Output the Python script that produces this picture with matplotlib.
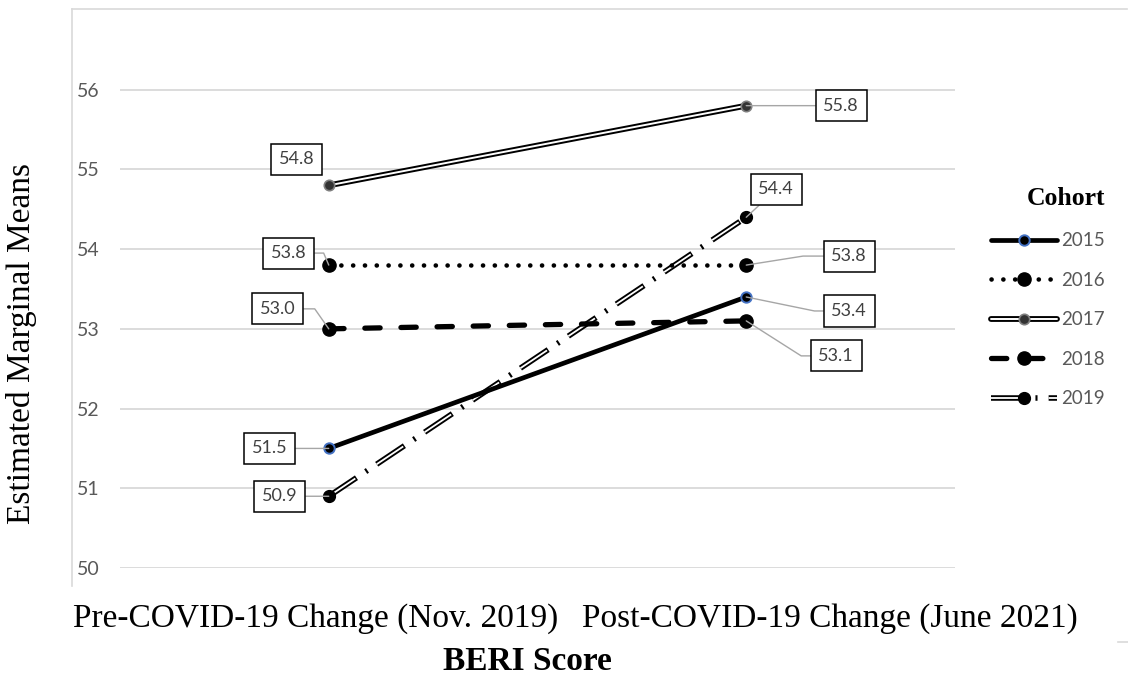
import matplotlib
matplotlib.use("Agg")
import matplotlib.pyplot as plt
from matplotlib.lines import Line2D

plt.rcParams['lines.scale_dashes'] = False

# data
categories = ["Pre-COVID-19 Change (Nov. 2019)", "Post-COVID-19 Change (June 2021)"]
cohorts = ["2015", "2016", "2017", "2018", "2019"]
vals_2015 = [51.5, 53.4]
vals_2016 = [53.8, 53.8]
vals_2017 = [54.8, 55.8]
vals_2018 = [53.0, 53.1]
vals_2019 = [50.9, 54.4]
yticks = [50, 51, 52, 53, 54, 55, 56]

W, H = 1128, 678
fig = plt.figure(figsize=(W / 100, H / 100), dpi=100)
ax = fig.add_axes([120 / W, 110 / H, 835 / W, 558 / H])
x = [0, 1]

SERIF = "Liberation Serif"
SANS = "Lato"
GRAY = "#595959"

# chart border (cropped chart area)
fig.add_artist(Line2D([72 / W, 1127 / W], [1 - 9 / H, 1 - 9 / H], color="#d9d9d9", lw=1.2))
fig.add_artist(Line2D([72 / W, 72 / W], [1 - 9 / H, 1 - 586 / H], color="#d9d9d9", lw=1.2))
fig.add_artist(Line2D([1118 / W, 1128 / W], [1 - 642 / H, 1 - 642 / H], color="#d9d9d9", lw=1.2))

ax.set_xlim(-0.5, 1.5)
ax.set_ylim(50, 57)
ax.set_yticks(yticks)
ax.set_xticks([])
ax.grid(axis="y", color="#d9d9d9", lw=1.3)
ax.set_axisbelow(True)
for s in ax.spines.values():
    s.set_visible(False)
ax.tick_params(axis="y", length=0, pad=14.5, labelcolor=GRAY, labelsize=14)
for t in ax.get_yticklabels():
    t.set_fontfamily(SANS)

# 2015 solid
l15, = ax.plot(x, vals_2015, color="black", lw=3.4, solid_capstyle="round",
               marker="o", ms=7.5, mfc="black", mec="#4472c4", mew=1.4, zorder=5)
# 2016 dotted
l16, = ax.plot(x, vals_2016, color="black", lw=3.3, ls=(0, (0.1, 8.4)),
               dash_capstyle="round", marker="o", ms=9.5, mfc="black", mec="black", zorder=4)
# 2017 double line
l17a, = ax.plot(x, vals_2017, color="black", lw=4.2, solid_capstyle="round", zorder=4)
l17b, = ax.plot(x, vals_2017, color="white", lw=1.4, solid_capstyle="round",
                marker="o", ms=7.5, mfc="#333333", mec="#808080", mew=1.2, zorder=4)
# 2018 dashed
l18, = ax.plot(x, vals_2018, color="black", lw=3.8, ls=(0, (11, 15)),
               dash_capstyle="round", marker="o", ms=9.5, mfc="black", mec="black", zorder=4)
# 2019 dash-dot double line
l19a, = ax.plot(x, vals_2019, color="black", lw=4.0, ls=(0, (24, 8, 1.5, 8)),
                dash_capstyle="butt", zorder=3)
l19b, = ax.plot(x, vals_2019, color="white", lw=1.3, ls=(0, (23, 18.5)),
                dash_capstyle="butt", marker="o", ms=8.5, mfc="black", mec="black", zorder=3)

# data labels: (x index, value, box offset px, leader angle at point)
labels = [
    (0, vals_2017[0], (-32, 26), None),
    (0, vals_2016[0], (-40, 12), 113),
    (0, vals_2018[0], (-51, 20), 125),
    (0, vals_2015[0], (-59, 0), "s"),
    (0, vals_2019[0], (-49, 0), "s"),
    (1, vals_2017[1], (95, 0), "s"),
    (1, vals_2019[1], (30, 28), "s"),
    (1, vals_2016[1], (103, 9), 9),
    (1, vals_2015[1], (103, -14), -11.6),
    (1, vals_2018[1], (90, -35), -32.5),
]
for xi, v, off, ang in labels:
    ap = None
    if ang == "s":
        ap = dict(arrowstyle="-", color="#a6a6a6", lw=1, shrinkA=0, shrinkB=0)
    elif ang is not None:
        ap = dict(arrowstyle="-", color="#a6a6a6", lw=1, shrinkA=0, shrinkB=0,
                  connectionstyle=f"angle,angleA=0,angleB={ang},rad=0")
    ax.annotate(f"{v:.1f}", xy=(x[xi], v), xytext=off, textcoords="offset pixels",
                ha="center", va="center", fontsize=13, family=SANS, color="#404040",
                bbox=dict(boxstyle="square,pad=0.42", fc="white", ec="black", lw=1.1),
                arrowprops=ap, zorder=6)

# axis texts
fig.text(73 / W, 1 - 627 / H, categories[0], ha="left", va="baseline",
         family=SERIF, fontsize=24)
fig.text(1078 / W, 1 - 627 / H, categories[1], ha="right", va="baseline",
         family=SERIF, fontsize=24)
fig.text(527 / W, 1 - 670 / H, "BERI Score", ha="center", va="baseline",
         family=SERIF, fontsize=24, fontweight="bold")
fig.text(22 / W, 1 - 163 / H, "Estimated Marginal Means", ha="center", va="top",
         rotation=90, family=SERIF, fontsize=24)

# legend
handles = [l15, l16, (l17a, l17b), l18, (l19a, l19b)]
leg = fig.legend(handles, cohorts, loc="upper left",
                 bbox_to_anchor=(991 / W, 1 - 187 / H), frameon=False,
                 borderpad=0, borderaxespad=0, handlelength=3.5, handletextpad=0.25,
                 labelspacing=1.2, prop=dict(family=SANS, size=13.5),
                 title="Cohort", title_fontproperties=dict(family=SERIF, size=18.5, weight="bold"))
for t in leg.get_texts():
    t.set_color(GRAY)
leg._legend_box.align = "right"

fig.savefig("out.png", dpi=100)
